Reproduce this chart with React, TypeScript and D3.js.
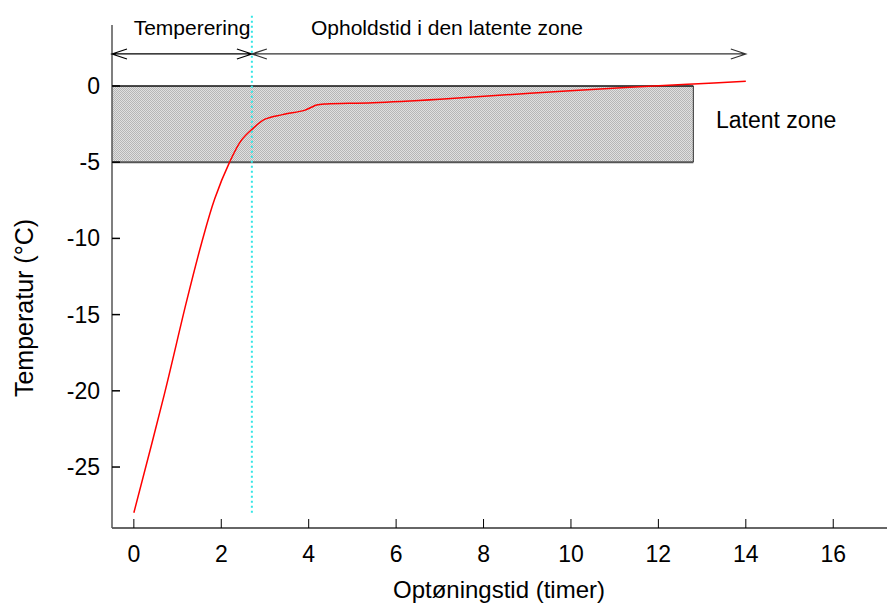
import React, { useRef, useEffect } from "react";
import * as d3 from "d3";

// thawing curve
const hours = [0, 0.7, 1.2, 1.55, 1.85, 2.19, 2.45, 2.7, 3.0, 3.4, 3.9, 4.06, 4.18, 4.41, 5.47, 7.0, 9.06, 11.35, 12.8, 14.0];
const temps = [-28, -20.2, -14.2, -10.3, -7.4, -5, -3.6, -2.85, -2.18, -1.88, -1.6, -1.4, -1.25, -1.18, -1.1, -0.87, -0.48, -0.09, 0.13, 0.31];

const xTicks = [0, 2, 4, 6, 8, 10, 12, 14, 16];
const yTicks = [0, -5, -10, -15, -20, -25];

// latent zone box and phase markers
const zoneTop = 0;
const zoneBottom = -5;
const zoneEnd = 12.8;
const phaseSplit = 2.7;
const residenceEnd = 14;
const arrowLevel = 2.1;
const phaseLabels = ["Temperering", "Opholdstid i den latente zone"];

const W = 887;
const H = 604;
const FONT = "'Liberation Sans', Arial, sans-serif";

function ThawChart() {
  const svgRef = useRef<SVGSVGElement>(null);

  useEffect(() => {
    const svg = d3.select(svgRef.current);
    svg.selectAll("*").remove();

    const x = d3.scaleLinear().domain([-0.5, 17.23]).range([112, 887]);
    const y = d3.scaleLinear().domain([4, -29]).range([25, 528]);
    const x0 = x(-0.5);

    // checker pattern like the dithered grey fill
    const pat = svg
      .append("defs")
      .append("pattern")
      .attr("id", "dither")
      .attr("patternUnits", "userSpaceOnUse")
      .attr("width", 2)
      .attr("height", 2);
    pat.append("rect").attr("width", 2).attr("height", 2).attr("fill", "#e0e0e0");
    pat.append("rect").attr("width", 1).attr("height", 1).attr("fill", "#b6b6b6");
    pat.append("rect").attr("x", 1).attr("y", 1).attr("width", 1).attr("height", 1).attr("fill", "#b6b6b6");

    // latent zone
    svg
      .append("rect")
      .attr("x", x0)
      .attr("y", y(zoneTop))
      .attr("width", x(zoneEnd) - x0)
      .attr("height", y(zoneBottom) - y(zoneTop))
      .attr("fill", "url(#dither)");
    svg.append("line").attr("x1", x0).attr("x2", x(zoneEnd)).attr("y1", y(zoneTop)).attr("y2", y(zoneTop))
      .attr("stroke", "#111").attr("stroke-width", 1.5);
    svg.append("line").attr("x1", x0).attr("x2", x(zoneEnd)).attr("y1", y(zoneBottom)).attr("y2", y(zoneBottom))
      .attr("stroke", "#555").attr("stroke-width", 2);
    svg.append("line").attr("x1", x(zoneEnd)).attr("x2", x(zoneEnd)).attr("y1", y(zoneTop)).attr("y2", y(zoneBottom))
      .attr("stroke", "#333").attr("stroke-width", 1);

    // axes
    svg.append("line").attr("x1", x0).attr("x2", W).attr("y1", y(-29)).attr("y2", y(-29))
      .attr("stroke", "#333").attr("stroke-width", 1.5);
    svg.append("line").attr("x1", x0).attr("x2", x0).attr("y1", y(4)).attr("y2", y(-29))
      .attr("stroke", "#555").attr("stroke-width", 1.5);

    svg.selectAll(".xt").data(xTicks).join("line").attr("class", "xt")
      .attr("x1", (d) => x(d)).attr("x2", (d) => x(d))
      .attr("y1", y(-29)).attr("y2", y(-29) - 9)
      .attr("stroke", "#000").attr("stroke-width", 1);
    svg.selectAll(".xl").data(xTicks).join("text").attr("class", "xl")
      .attr("x", (d) => x(d)).attr("y", 562)
      .attr("text-anchor", "middle")
      .style("font-size", "23px")
      .text((d) => d);

    svg.selectAll(".yt").data(yTicks).join("line").attr("class", "yt")
      .attr("x1", x0).attr("x2", x0 + 8)
      .attr("y1", (d) => y(d)).attr("y2", (d) => y(d))
      .attr("stroke", "#000").attr("stroke-width", 1.5);
    svg.selectAll(".yl").data(yTicks).join("text").attr("class", "yl")
      .attr("x", 100).attr("y", (d) => y(d) + 8)
      .attr("text-anchor", "end")
      .style("font-size", "23px")
      .text((d) => d);

    svg.append("text").attr("x", 499).attr("y", 598).attr("text-anchor", "middle")
      .style("font-size", "24px")
      .text("Optøningstid (timer)");
    svg.append("text")
      .attr("transform", `translate(33,308) rotate(-90)`)
      .attr("text-anchor", "middle")
      .style("font-size", "25px")
      .text("Temperatur (°C)");

    // phase divider
    svg.append("line")
      .attr("x1", x(phaseSplit)).attr("x2", x(phaseSplit))
      .attr("y1", y(4.6)).attr("y2", y(-28.2))
      .attr("stroke", "#33e6e6").attr("stroke-width", 2)
      .attr("stroke-dasharray", "2,3");

    // double-headed arrows
    const ay = y(arrowLevel);
    const arrow = (a: number, b: number, color: string) => {
      const xa = x(a);
      const xb = x(b);
      const p = d3.path();
      p.moveTo(xa, ay); p.lineTo(xb, ay);
      p.moveTo(xa + 15, ay - 5); p.lineTo(xa, ay); p.lineTo(xa + 15, ay + 5);
      p.moveTo(xb - 15, ay - 5); p.lineTo(xb, ay); p.lineTo(xb - 15, ay + 5);
      svg.append("path").attr("d", p.toString()).attr("fill", "none")
        .attr("stroke", color).attr("stroke-width", 1.2);
    };
    arrow(-0.5, phaseSplit, "#000");
    arrow(phaseSplit, residenceEnd, "#333");

    svg.append("text").attr("x", 192).attr("y", 35)
      .attr("text-anchor", "middle").text(phaseLabels[0]);
    svg.append("text").attr("x", 447).attr("y", 35)
      .attr("text-anchor", "middle").text(phaseLabels[1]);

    svg.append("text").attr("x", 716).attr("y", 128).style("font-size", "23px").text("Latent zone");

    // temperature curve
    const line = d3
      .line<number>()
      .x((_, i) => x(hours[i]))
      .y((d) => y(d))
      .curve(d3.curveCatmullRom);
    svg.append("path").attr("d", line(temps)).attr("fill", "none")
      .attr("stroke", "#ff0000").attr("stroke-width", 1.5);
  }, []);

  return (
    <svg
      ref={svgRef}
      width={W}
      height={H}
      style={{ fontFamily: FONT, fontSize: 21, display: "block" }}
    />
  );
}

export default function App() {
  return (
    <div style={{ position: "absolute", left: 0, top: 0, background: "#fff" }}>
      <ThawChart />
    </div>
  );
}
